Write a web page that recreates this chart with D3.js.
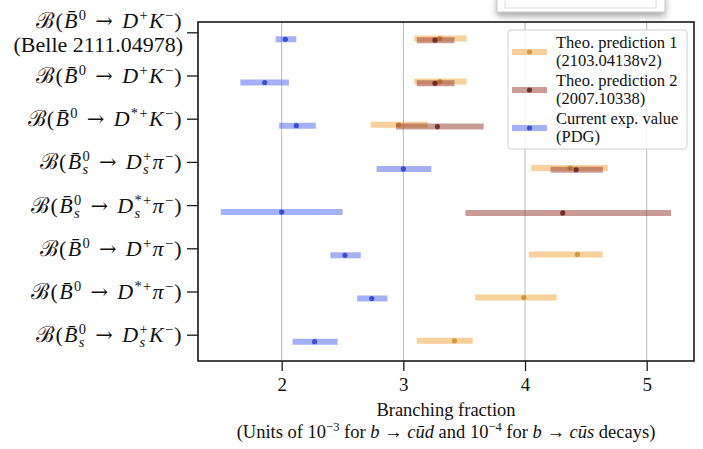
<!DOCTYPE html>
<html>
<head>
<meta charset="utf-8">
<script src="https://d3js.org/d3.v7.min.js"></script>
<style>
  body { margin: 0; background: #fff; }
  text { font-family: "Liberation Serif", "DejaVu Serif", serif; fill: #111; }
</style>
</head>
<body>
<div id="chart"></div>
<script>
// label pieces: N plain, I italic, A arrow, SUP superscript, SS stacked sub+sup
var N = function(s) { return {t: s}; },
    I = function(s) { return {t: s, i: 1}; },
    A = function() { return {t: " → ", a: 1}; },
    SUP = function(s) { return {t: s, p: "sup"}; },
    SS = function(b, u) { return {sub: b, sup: u, p: "ss"}; };

var labels = [
  [N("ℬ("), I("B̄"), SUP("0"), A(), I("D"), SUP("+"), I("K"), SUP("−"), N(")")],
  [N("ℬ("), I("B̄"), SUP("0"), A(), I("D"), SUP("+"), I("K"), SUP("−"), N(")")],
  [N("ℬ("), I("B̄"), SUP("0"), A(), I("D"), SUP("*+"), I("K"), SUP("−"), N(")")],
  [N("ℬ("), I("B̄"), SS("s", "0"), A(), I("D"), SS("s", "+"), I("π"), SUP("−"), N(")")],
  [N("ℬ("), I("B̄"), SS("s", "0"), A(), I("D"), SS("s", "*+"), I("π"), SUP("−"), N(")")],
  [N("ℬ("), I("B̄"), SUP("0"), A(), I("D"), SUP("+"), I("π"), SUP("−"), N(")")],
  [N("ℬ("), I("B̄"), SUP("0"), A(), I("D"), SUP("*+"), I("π"), SUP("−"), N(")")],
  [N("ℬ("), I("B̄"), SS("s", "0"), A(), I("D"), SS("s", "+"), I("K"), SUP("−"), N(")")]
];
var subLabels = ["(Belle 2111.04978)", "", "", "", "", "", "", ""];

// current experimental value (PDG / Belle)
var expVal = [2.03, 1.86, 2.12, 3.00, 2.00, 2.52, 2.74, 2.27];
var expLo  = [1.95, 1.66, 1.98, 2.78, 1.50, 2.40, 2.62, 2.09];
var expHi  = [2.12, 2.06, 2.28, 3.23, 2.50, 2.65, 2.87, 2.46];

// theo. prediction 1 (2103.04138v2)
var th1Val = [3.30, 3.30, 2.96, 4.37, null, 4.43, 3.99, 3.42];
var th1Lo  = [3.09, 3.09, 2.73, 4.05, null, 4.03, 3.59, 3.11];
var th1Hi  = [3.52, 3.52, 3.20, 4.68, null, 4.64, 4.26, 3.57];

// theo. prediction 2 (2007.10338)
var th2Val = [3.26, 3.26, 3.28, 4.42, 4.31, null, null, null];
var th2Lo  = [3.11, 3.11, 2.94, 4.21, 3.51, null, null, null];
var th2Hi  = [3.42, 3.42, 3.66, 4.64, 5.20, null, null, null];

var xTicks = [2, 3, 4, 5];

var series = [
  {name: ["Theo. prediction 1", "(2103.04138v2)"], val: th1Val, lo: th1Lo, hi: th1Hi,
   band: "#f2a23a", dot: "#c98a2a", off: 0.13},
  {name: ["Theo. prediction 2", "(2007.10338)"], val: th2Val, lo: th2Lo, hi: th2Hi,
   band: "#96392b", dot: "#5a1a14", off: 0.17},
  {name: ["Current exp. value", "(PDG)"], val: expVal, lo: expLo, hi: expHi,
   band: "#4a64ee", dot: "#2236c8", off: 0.15}
];

var W = 703, H = 449;
var frame = {left: 198, right: 694, top: 22, bottom: 361};

var svg = d3.select("#chart").append("svg")
  .attr("width", W).attr("height", H);

var x = d3.scaleLinear().domain([1.312, 5.389]).range([frame.left, frame.right]);
var y = d3.scaleLinear().domain([0, 7]).range([32.8, 335.2]);

// popup remnant at top
var defs = svg.append("defs");
var f = defs.append("filter").attr("id", "sh").attr("x", "-10%").attr("y", "-50%")
  .attr("width", "120%").attr("height", "250%");
f.append("feDropShadow").attr("dx", 0).attr("dy", 4).attr("stdDeviation", 3)
  .attr("flood-color", "#777").attr("flood-opacity", 0.6);
svg.append("rect").attr("x", 497).attr("y", -6).attr("width", 168).attr("height", 18)
  .attr("fill", "#fff").attr("stroke", "#c8c8c8").attr("filter", "url(#sh)");
svg.append("rect").attr("x", 505).attr("y", -4).attr("width", 151).attr("height", 12)
  .attr("fill", "#fff").attr("stroke", "#ddd");

// grid
svg.append("g").selectAll("line").data(xTicks).enter().append("line")
  .attr("x1", function(d) { return x(d); }).attr("x2", function(d) { return x(d); })
  .attr("y1", frame.top).attr("y2", frame.bottom)
  .attr("stroke", "#b8b8b8").attr("stroke-width", 1);

// error bars
series.forEach(function(s) {
  var g = svg.append("g");
  var idx = d3.range(s.val.length).filter(function(i) { return s.val[i] != null; });
  g.selectAll("line").data(idx).enter().append("line")
    .attr("x1", function(i) { return x(s.lo[i]); })
    .attr("x2", function(i) { return x(s.hi[i]); })
    .attr("y1", function(i) { return y(i + s.off); })
    .attr("y2", function(i) { return y(i + s.off); })
    .attr("stroke", s.band).attr("stroke-width", 6).attr("stroke-opacity", 0.5);
  g.selectAll("circle").data(idx).enter().append("circle")
    .attr("cx", function(i) { return x(s.val[i]); })
    .attr("cy", function(i) { return y(i + s.off); })
    .attr("r", 2.6).attr("fill", s.dot).attr("fill-opacity", 0.8);
});

// frame
svg.append("rect").attr("x", frame.left).attr("y", frame.top)
  .attr("width", frame.right - frame.left).attr("height", frame.bottom - frame.top)
  .attr("fill", "none").attr("stroke", "#1a1a1a").attr("stroke-width", 1.6);

// x axis
var xAxis = svg.append("g").attr("transform", "translate(0," + frame.bottom + ")")
  .call(d3.axisBottom(x).tickValues(xTicks).tickSize(10).tickPadding(7).tickFormat(d3.format("d")));
xAxis.select(".domain").remove();
xAxis.selectAll("line").attr("stroke", "#1a1a1a").attr("stroke-width", 1.3);
xAxis.selectAll("text").style("font-size", "19px").style("fill", "#111")
  .style("font-family", "Liberation Serif, serif");

svg.append("text").attr("x", (frame.left + frame.right) / 2).attr("y", 416)
  .attr("text-anchor", "middle").attr("font-size", "18.5px").text("Branching fraction");
var xl2 = svg.append("text").attr("x", (frame.left + frame.right) / 2).attr("y", 438)
  .attr("text-anchor", "middle").attr("font-size", "18.5px");
xl2.append("tspan").text("(Units of 10");
xl2.append("tspan").attr("dy", -7).attr("font-size", "12.5px").text("−3");
xl2.append("tspan").attr("dy", 7).text(" for ");
xl2.append("tspan").attr("font-style", "italic").text("b");
xl2.append("tspan").text(" → ");
xl2.append("tspan").attr("font-style", "italic").text("cūd");
xl2.append("tspan").text(" and 10");
xl2.append("tspan").attr("dy", -7).attr("font-size", "12.5px").text("−4");
xl2.append("tspan").attr("dy", 7).text(" for ");
xl2.append("tspan").attr("font-style", "italic").text("b");
xl2.append("tspan").text(" → ");
xl2.append("tspan").attr("font-style", "italic").text("cūs");
xl2.append("tspan").text(" decays)");

// y axis ticks
svg.append("g").selectAll("line").data(labels).enter().append("line")
  .attr("x1", frame.left - 11).attr("x2", frame.left)
  .attr("y1", function(d, i) { return y(i); }).attr("y2", function(d, i) { return y(i); })
  .attr("stroke", "#1a1a1a").attr("stroke-width", 1.3);

// y labels
var SUPDY = -8, SUBDY = 5;
labels.forEach(function(tokens, i) {
  var twoLine = subLabels[i] !== "";
  var base = y(i) + 7 + (twoLine ? -12 : 0);
  var t = svg.append("text").attr("x", frame.left - 15).attr("y", base)
    .attr("text-anchor", "end").attr("font-size", "22px").attr("letter-spacing", "1.3px");
  var shift = 0;
  tokens.forEach(function(k) {
    if (k.p === "ss") {
      var sb = t.append("tspan").attr("dy", SUBDY - shift).attr("font-size", "14.5px")
        .attr("font-style", "italic").text(k.sub);
      var w = sb.node().getComputedTextLength();
      t.append("tspan").attr("dx", -w).attr("dy", SUPDY - SUBDY).attr("font-size", "14.5px").text(k.sup);
      shift = SUPDY;
    } else {
      var target = k.p === "sup" ? SUPDY : 0;
      var ts = t.append("tspan").attr("dy", target - shift).text(k.t);
      if (k.p === "sup") ts.attr("font-size", "14.5px");
      if (k.i) ts.attr("font-style", "italic");
      if (k.a) ts.style("font-family", "DejaVu Serif, serif").attr("font-size", "21px");
      shift = target;
    }
  });
  if (twoLine) {
    svg.append("text").attr("x", frame.left - 15).attr("y", base + 24)
      .attr("text-anchor", "end").attr("font-size", "22px").text(subLabels[i]);
  }
});

// legend
var lg = svg.append("g").attr("transform", "translate(508,30)");
lg.append("rect").attr("width", 179).attr("height", 119).attr("rx", 3)
  .attr("fill", "#fff").attr("fill-opacity", 0.85).attr("stroke", "#d0d0d0");
series.forEach(function(s, j) {
  var cy = 22 + j * 38;
  lg.append("line").attr("x1", 4).attr("x2", 39).attr("y1", cy).attr("y2", cy)
    .attr("stroke", s.band).attr("stroke-width", 6).attr("stroke-opacity", 0.5);
  lg.append("circle").attr("cx", 21.5).attr("cy", cy).attr("r", 2.6)
    .attr("fill", s.dot).attr("fill-opacity", 0.8);
  lg.append("text").attr("x", 48).attr("y", cy - 4).attr("font-size", "16.5px").text(s.name[0]);
  lg.append("text").attr("x", 48).attr("y", cy + 14).attr("font-size", "16.5px").text(s.name[1]);
});
</script>
</body>
</html>
